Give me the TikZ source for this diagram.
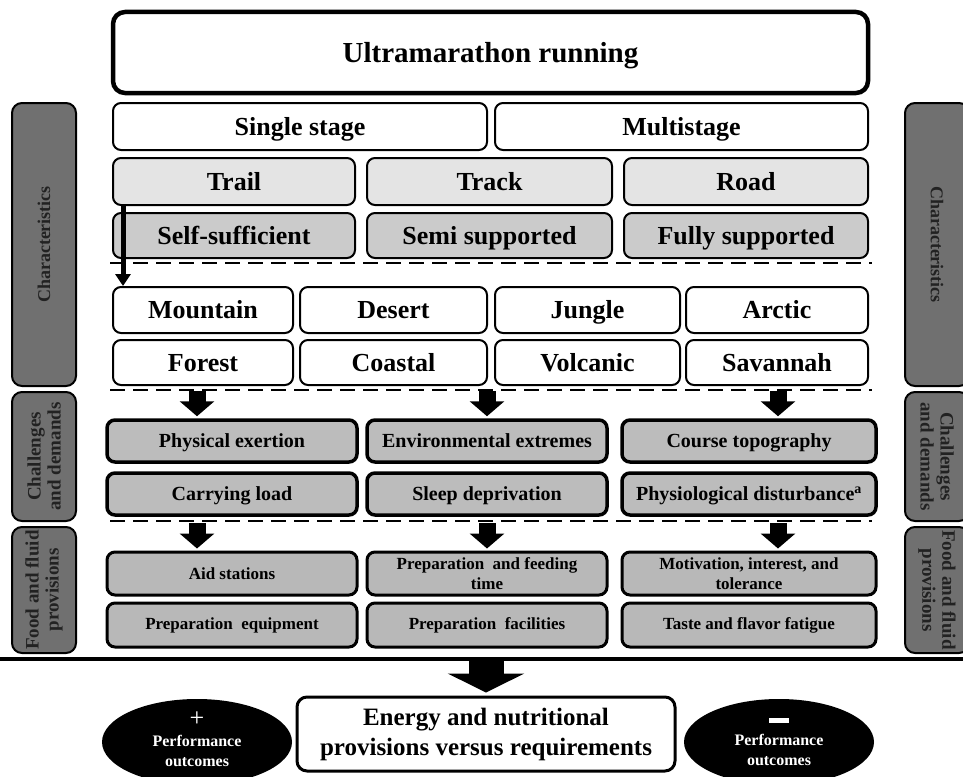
\documentclass[tikz,border=0pt]{standalone}
\usepackage{fontspec}
\setmainfont{Liberation Serif}
\usetikzlibrary{arrows.meta,shapes.geometric}
\definecolor{typefill}{HTML}{E4E4E4}
\definecolor{supportfill}{HTML}{CBCBCB}
\definecolor{demandfill}{HTML}{BCBCBC}
\definecolor{foodfill}{HTML}{B8B8B8}
\definecolor{sidefill}{HTML}{707070}
\definecolor{sidetext}{HTML}{222222}

\begin{document}
\begin{tikzpicture}[x=1pt,y=-1pt,
    headbox/.style={draw, line width=4.5pt, rounded corners=12pt, fill=white, inner sep=0pt,
        text height=21.8pt, text depth=2.6pt, font=\bfseries\fontsize{29}{32}\selectfont},
    charbox/.style={draw, line width=2pt, rounded corners=8pt, fill=white, inner sep=0pt,
        text height=19.5pt, text depth=2.3pt, font=\bfseries\fontsize{26}{28}\selectfont},
    typebox/.style={charbox, fill=typefill},
    supportbox/.style={charbox, fill=supportfill},
    demandbox/.style={draw, line width=3.5pt, rounded corners=8pt, fill=demandfill, inner sep=0pt,
        text height=15pt, text depth=1.8pt, font=\bfseries\fontsize{20}{22}\selectfont},
    foodbox/.style={draw, line width=3pt, rounded corners=8pt, fill=foodfill, inner sep=0pt,
        align=center, font=\bfseries\fontsize{17}{20}\selectfont},
    sidebar/.style={draw, line width=2pt, rounded corners=10pt, fill=sidefill, inner sep=0pt,
        text=sidetext, align=center, minimum height=64pt},
    divider/.style={line width=2.5pt, dash pattern=on 15pt off 8pt},
    floorline/.style={line width=4pt},
    blockarrow/.style={line width=17pt, -{Triangle[length=15pt,width=34pt]}, shorten >=2pt},
    bigarrow/.style={line width=35pt, -{Triangle[length=19pt,width=76pt]}, shorten >=3pt},
    energybox/.style={draw, line width=3pt, rounded corners=10pt, fill=white, inner sep=0pt,
        align=center, font=\bfseries\fontsize{25}{30}\selectfont},
    outcome/.style={ellipse, fill=black, inner sep=0pt, minimum width=190pt, minimum height=86pt},
    outcometext/.style={text=white, align=center, font=\bfseries\fontsize{16}{20}\selectfont}]
    \useasboundingbox (0,0) rectangle (963,776);
    \clip (0,0) rectangle (963,776);
    % header
    \node[headbox, minimum width=755pt, minimum height=81pt] (ultra) at (490.5,52.5) {Ultramarathon running};
    \node[charbox, minimum width=374pt, minimum height=47pt] (single) at (300,126.5) {Single stage};
    \node[charbox, minimum width=373pt, minimum height=47pt] (multi) at (681.5,126.5) {Multistage};
    \node[typebox, minimum width=242pt, minimum height=47pt] (trail) at (234,181.5) {Trail};
    \node[typebox, minimum width=245pt, minimum height=47pt] (track) at (489.5,181.5) {Track};
    \node[typebox, minimum width=244pt, minimum height=47pt] (road) at (746,181.5) {Road};
    \node[supportbox, minimum width=242pt, minimum height=45pt] (selfsuff) at (234,235.5) {Self-sufficient};
    \node[supportbox, minimum width=245pt, minimum height=45pt] (semisupp) at (489.5,235.5) {Semi supported};
    \node[supportbox, minimum width=244pt, minimum height=45pt] (fullsupp) at (746,235.5) {Fully supported};
    % terrain
    \node[charbox, minimum width=180pt, minimum height=46pt] (mountain) at (203,310) {Mountain};
    \node[charbox, minimum width=187pt, minimum height=46pt] (desert) at (393.5,310) {Desert};
    \node[charbox, minimum width=185pt, minimum height=46pt] (jungle) at (587.5,310) {Jungle};
    \node[charbox, minimum width=182pt, minimum height=46pt] (arctic) at (777,310) {Arctic};
    \node[charbox, minimum width=180pt, minimum height=45pt] (forest) at (203,362.5) {Forest};
    \node[charbox, minimum width=187pt, minimum height=45pt] (coastal) at (393.5,362.5) {Coastal};
    \node[charbox, minimum width=185pt, minimum height=45pt] (volcanic) at (587.5,362.5) {Volcanic};
    \node[charbox, minimum width=182pt, minimum height=45pt] (savannah) at (777,362.5) {Savannah};
    % challenges and demands
    \node[demandbox, minimum width=250pt, minimum height=42pt] (phys) at (232,441) {Physical exertion};
    \node[demandbox, minimum width=240pt, minimum height=42pt] (envir) at (487,441) {Environmental extremes};
    \node[demandbox, minimum width=254pt, minimum height=42pt] (topo) at (749,441) {Course topography};
    \node[demandbox, minimum width=250pt, minimum height=42pt] (load) at (232,494) {Carrying load};
    \node[demandbox, minimum width=240pt, minimum height=42pt] (sleep) at (487,494) {Sleep deprivation};
    \node[demandbox, minimum width=254pt, minimum height=42pt] (disturb) at (749,494) {Physiological disturbance\textsuperscript{a}};
    % food and fluid provisions
    \node[foodbox, minimum width=250pt, minimum height=43pt] (aid) at (232,573.5) {Aid stations};
    \node[foodbox, minimum width=240pt, minimum height=43pt] (feedtime) at (487,573.5) {Preparation\enspace and feeding\\time};
    \node[foodbox, minimum width=254pt, minimum height=43pt] (motiv) at (749,573.5) {Motivation, interest, and\\tolerance};
    \node[foodbox, minimum width=250pt, minimum height=44pt] (equip) at (232,625) {Preparation\enspace equipment};
    \node[foodbox, minimum width=240pt, minimum height=44pt] (facil) at (487,625) {Preparation\enspace facilities};
    \node[foodbox, minimum width=254pt, minimum height=44pt] (taste) at (749,625) {Taste and flavor fatigue};
    % side bars
    \node[sidebar, rotate=90, minimum width=283pt, font=\bfseries\fontsize{18}{20}\selectfont] (charL) at (44,244.5) {Characteristics};
    \node[sidebar, rotate=90, minimum width=129pt, font=\bfseries\fontsize{19}{20}\selectfont] (chalL) at (44,456.5) {Challenges\\and demands};
    \node[sidebar, rotate=90, minimum width=126pt, font=\bfseries\fontsize{19}{20}\selectfont] (foodL) at (44,590) {Food and fluid\\provisions};
    \node[sidebar, rotate=-90, minimum width=283pt, font=\bfseries\fontsize{18}{20}\selectfont] (charR) at (937,244.5) {Characteristics};
    \node[sidebar, rotate=-90, minimum width=129pt, font=\bfseries\fontsize{19}{20}\selectfont] (chalR) at (937,456.5) {Challenges\\and demands};
    \node[sidebar, rotate=-90, minimum width=126pt, font=\bfseries\fontsize{19}{20}\selectfont] (foodR) at (937,590) {Food and fluid\\provisions};
    % separators
    \coordinate (sepA) at (110,263);
    \coordinate (sepB) at (110,390);
    \coordinate (sepC) at (110,521);
    \coordinate (base) at (0,659);
    \draw[divider] (sepA) -- ++(762,0);
    \draw[divider] (sepB) -- ++(762,0);
    \draw[divider] (sepC) -- ++(762,0);
    \draw[floorline] (base) -- ++(963,0);
    % arrows
    \draw[line width=5pt, -{Triangle[length=12pt,width=15pt]}] ([xshift=11pt]trail.south west) -- ([xshift=11pt]mountain.north west);
    \coordinate (arrB1) at (197,391);
    \coordinate (arrB2) at (487,391);
    \coordinate (arrB3) at (778,391);
    \coordinate (arrC1) at (197,523);
    \coordinate (arrC2) at (487,523);
    \coordinate (arrC3) at (778,523);
    \draw[blockarrow] (arrB1) -- (arrB1 |- phys.north);
    \draw[blockarrow] (arrB2) -- (arrB2 |- envir.north);
    \draw[blockarrow] (arrB3) -- (arrB3 |- topo.north);
    \draw[blockarrow] (arrC1) -- (arrC1 |- aid.north);
    \draw[blockarrow] (arrC2) -- (arrC2 |- feedtime.north);
    \draw[blockarrow] (arrC3) -- (arrC3 |- motiv.north);
    % outcome
    \node[energybox, minimum width=378pt, minimum height=74pt] (energy) at (486,734) {Energy and nutritional\\provisions versus requirements};
    \draw[bigarrow] (energy.north |- base) -- (energy.north);
    \node[outcome, label={[outcometext, yshift=3pt]center:{{\fontsize{26}{20}\selectfont\mdseries +}\\Performance\\outcomes}}] (gain) at (197,742) {};
    \node[outcome, label={[outcometext]center:{\rule[2pt]{20pt}{5pt}\\Performance\\outcomes}}] (loss) at (779,742) {};
\end{tikzpicture}
\end{document}
